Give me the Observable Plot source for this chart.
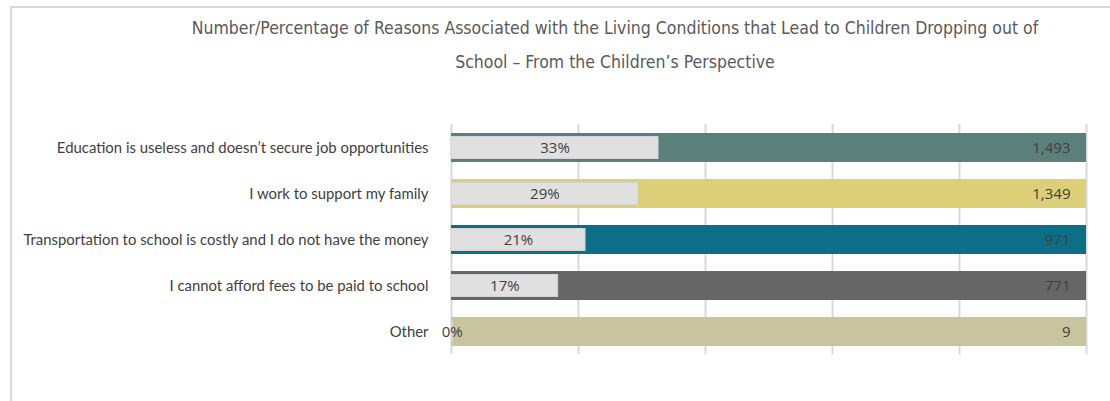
<!DOCTYPE html>
<html>
<head>
<meta charset="utf-8">
<script src="https://cdn.jsdelivr.net/npm/d3@7"></script>
<script src="https://cdn.jsdelivr.net/npm/@observablehq/plot@0.6"></script>
<style>
  html, body { margin: 0; padding: 0; background: #fff; }
  body { width: 1110px; height: 401px; position: relative; overflow: hidden; }
  #frame { position: absolute; left: 10px; top: 6px; width: 1200px; height: 500px;
           border-left: 2px solid #d9d9d9; border-top: 2px solid #d9d9d9; }
  .title { position: absolute; left: 115px; width: 1000px; text-align: center;
           font-family: "Liberation Sans Narrow", "DejaVu Sans Condensed", Lato, sans-serif;
           font-size: 17.5px; color: #595959; white-space: nowrap; line-height: 1; }
  #chart { position: absolute; left: 0; top: 100px; }
</style>
</head>
<body>
<div id="frame"></div>
<div class="title" style="top:20px">Number/Percentage of Reasons Associated with the Living Conditions that Lead to Children Dropping out of</div>
<div class="title" style="top:54px">School – From the Children’s Perspective</div>
<div id="chart"></div>
<script>
const categories = [
  "Education is useless and doesn’t secure job opportunities",
  "I work to support my family",
  "Transportation to school is costly and I do not have the money",
  "I cannot afford fees to be paid to school",
  "Other"
];
const counts = [1493, 1349, 971, 771, 9];
const shares = [0.326, 0.294, 0.211, 0.168, 0.002];
const colors = ["#5b807b", "#dccf77", "#0c6e87", "#666666", "#c8c49e"];
const gridTicks = [0, 0.2, 0.4, 0.6, 0.8, 1];

const data = categories.map((c, i) => ({category: c, count: counts[i], share: shares[i], full: 1}));

const chart = Plot.plot({
  width: 1110,
  height: 301,
  marginLeft: 451,
  marginRight: 24,
  marginTop: 24,
  marginBottom: 47,
  style: {fontFamily: "Lato, sans-serif", fontSize: "14.9px", color: "#404040", background: "transparent"},
  x: {domain: [0, 1], axis: null},
  y: {domain: categories, label: null, paddingInner: 0.37, paddingOuter: 0.185, tickSize: 0, tickPadding: 23},
  color: {domain: categories, range: colors},
  marks: [
    Plot.ruleX(gridTicks, {stroke: "#d9d9d9", strokeWidth: 2}),
    Plot.barX(data, {x: "full", y: "category", fill: "category"}),
    Plot.barX(data, {x: "share", y: "category", fill: "#e0e0e0", stroke: "#d4d4d4", strokeWidth: 1, insetTop: 3.5, insetBottom: 3.5}),
    Plot.text(data, {x: d => d.share / 2, y: "category", text: d => d3.format(".0%")(d.share),
      fill: "#404040", fontSize: 15, fontFamily: "'Open Sans', sans-serif"}),
    Plot.text(data, {x: "full", y: "category", text: d => d3.format(",")(d.count), textAnchor: "end", dx: -16,
      fill: "#404040", fontSize: 15, fontFamily: "'Open Sans', sans-serif"})
  ]
});
document.getElementById("chart").appendChild(chart);
</script>
</body>
</html>
